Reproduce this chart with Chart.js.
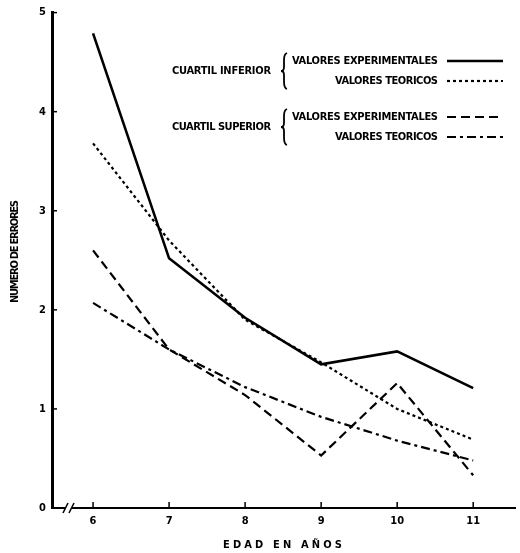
<!DOCTYPE html>
<html>
<head>
<meta charset="utf-8">
<script src="https://cdn.jsdelivr.net/npm/chart.js@4.4.1/dist/chart.umd.min.js"></script>
<style>
  body { margin: 0; background: #fff; }
  canvas { display: block; }
</style>
</head>
<body>
<canvas id="chart" width="520" height="553"></canvas>
<script>
// data
const edades = [6, 7, 8, 9, 10, 11];
const xTicks = [6, 7, 8, 9, 10, 11];
const yTicks = [0, 1, 2, 3, 4, 5];
const inferiorExperimental = [4.79, 2.52, 1.92, 1.45, 1.58, 1.21];
const inferiorTeorico = [3.68, 2.70, 1.90, 1.47, 1.00, 0.69];
const superiorExperimental = [2.60, 1.60, 1.14, 0.53, 1.26, 0.33];
const superiorTeorico = [2.07, 1.60, 1.22, 0.92, 0.68, 0.48];

const grupos = ['CUARTIL INFERIOR', 'CUARTIL SUPERIOR'];
const etiquetas = ['VALORES EXPERIMENTALES', 'VALORES TEORICOS'];

const FONT = '"DejaVu Sans Condensed", "Liberation Sans Narrow", sans-serif';

const pts = (arr) => arr.map((v, i) => ({ x: edades[i], y: v }));

const mkSet = (label, data, dash, w) => ({
    label: label,
    data: pts(data),
    borderColor: '#000',
    backgroundColor: '#000',
    borderWidth: w,
    borderDash: dash,
    pointRadius: 0,
    tension: 0,
    fill: false
});

const datasets = [
    mkSet(grupos[0] + ' ' + etiquetas[0], inferiorExperimental, [], 2.6),
    mkSet(grupos[0] + ' ' + etiquetas[1], inferiorTeorico, [3, 3], 2.2),
    mkSet(grupos[1] + ' ' + etiquetas[0], superiorExperimental, [9, 5], 2.2),
    mkSet(grupos[1] + ' ' + etiquetas[1], superiorTeorico, [9, 4, 3, 4], 2.2)
];

// draw text stretched/squeezed by letter spacing to a given width
const fitText = (ctx, text, x0, y, width) => {
    ctx.letterSpacing = '0px';
    const w0 = ctx.measureText(text).width;
    const sp = (width - w0) / (text.length - 1);
    ctx.letterSpacing = sp + 'px';
    ctx.textAlign = 'left';
    ctx.fillText(text, x0, y);
    ctx.letterSpacing = '0px';
};

// tick marks, axis break, titles and the bracketed legend
const extras = {
    id: 'extras',
    afterDraw(chart) {
        const ctx = chart.ctx;
        const xs = chart.scales.x, ys = chart.scales.y;
        const area = chart.chartArea;
        ctx.save();
        ctx.strokeStyle = '#000';
        ctx.fillStyle = '#000';
        ctx.lineWidth = 1.5;

        // inward ticks
        yTicks.forEach(v => {
            const y = ys.getPixelForValue(v);
            ctx.beginPath();
            ctx.moveTo(area.left, y);
            ctx.lineTo(area.left + 5, y);
            ctx.stroke();
        });
        xTicks.forEach(v => {
            const x = xs.getPixelForValue(v);
            ctx.beginPath();
            ctx.moveTo(x, area.bottom);
            ctx.lineTo(x, area.bottom - 6);
            ctx.stroke();
        });

        // axis break
        ctx.fillStyle = '#fff';
        ctx.fillRect(area.left + 14, area.bottom - 3, 6, 6);
        ctx.fillStyle = '#000';
        [area.left + 13, area.left + 19].forEach(x => {
            ctx.beginPath();
            ctx.moveTo(x - 2, area.bottom + 5);
            ctx.lineTo(x + 3, area.bottom - 5);
            ctx.stroke();
        });

        // axis titles
        ctx.font = 'bold 11px ' + FONT;
        ctx.textBaseline = 'middle';
        fitText(ctx, 'EDAD EN AÑOS', 223, 545, 119);
        ctx.save();
        ctx.translate(15, 303);
        ctx.rotate(-Math.PI / 2);
        fitText(ctx, 'NUMERO DE ERRORES', 0, 0, 103);
        ctx.restore();

        // legend
        const rows = [61, 81, 117, 137];
        grupos.forEach((g, k) => {
            const yTop = rows[k * 2], yBot = rows[k * 2 + 1];
            const mid = (yTop + yBot) / 2;
            fitText(ctx, g, 172, mid, 99);
            // brace
            const bx = 284;
            ctx.lineWidth = 1.8;
            ctx.beginPath();
            ctx.moveTo(bx + 3, yTop - 8);
            ctx.quadraticCurveTo(bx, yTop - 7, bx, yTop - 1);
            ctx.lineTo(bx, mid - 4);
            ctx.quadraticCurveTo(bx, mid, bx - 3, mid);
            ctx.quadraticCurveTo(bx, mid, bx, mid + 4);
            ctx.lineTo(bx, yBot + 1);
            ctx.quadraticCurveTo(bx, yBot + 7, bx + 3, yBot + 8);
            ctx.stroke();
        });
        const widths = [146, 103];
        etiquetas.concat(etiquetas).forEach((t, i) => {
            const y = rows[i];
            const w = widths[i % 2];
            fitText(ctx, t, 438 - w, y, w);
            const ds = chart.data.datasets[i];
            ctx.lineWidth = ds.borderWidth;
            ctx.setLineDash(ds.borderDash);
            ctx.beginPath();
            ctx.moveTo(447, y);
            ctx.lineTo(503, y);
            ctx.stroke();
            ctx.setLineDash([]);
        });
        ctx.restore();
    }
};

new Chart(document.getElementById('chart'), {
    type: 'line',
    data: { datasets: datasets },
    options: {
        responsive: false,
        animation: false,
        layout: { padding: { top: 12, right: 5, left: 0, bottom: 0 } },
        plugins: {
            legend: { display: false },
            tooltip: { enabled: false }
        },
        scales: {
            x: {
                type: 'linear',
                min: 5.46,
                max: 11.55,
                afterBuildTicks: (s) => { s.ticks = xTicks.map(v => ({ value: v })); },
                afterFit: (s) => { s.height = 45; },
                grid: { display: false, drawTicks: false },
                border: { display: true, color: '#000', width: 2 },
                ticks: {
                    color: '#000',
                    padding: 7,
                    font: { family: FONT, size: 11, weight: 'bold' }
                }
            },
            y: {
                min: 0,
                max: 5,
                afterBuildTicks: (s) => { s.ticks = yTicks.map(v => ({ value: v })); },
                afterFit: (s) => { s.width = 52; },
                grid: { display: false, drawTicks: false },
                border: { display: true, color: '#000', width: 3 },
                ticks: {
                    color: '#000',
                    padding: 6,
                    font: { family: FONT, size: 11, weight: 'bold' }
                }
            }
        }
    },
    plugins: [extras]
});
</script>
</body>
</html>
